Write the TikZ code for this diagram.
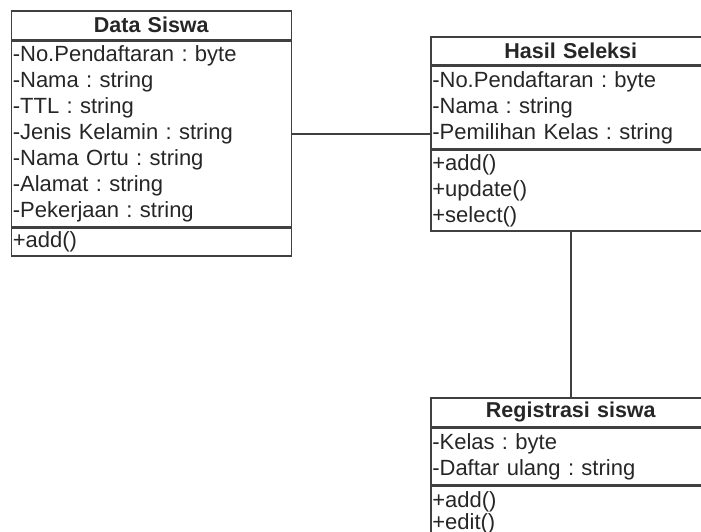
\documentclass[tikz,border=0pt]{standalone}
\usepackage{fontspec}
\setmainfont{Liberation Sans}
\usetikzlibrary{positioning}
\frenchspacing
\tikzset{
  cls/.style={draw=black!75,line width=1.6pt,minimum width=280pt,text width=277pt,
    inner xsep=1pt,inner ysep=0pt,font=\fontsize{22}{26}\selectfont,text=black!85},
  clstitle/.style={cls,align=center,minimum height=29pt,font=\fontsize{21.5}{26}\selectfont\bfseries},
  clsbody/.style={cls,align=left},
  link/.style={draw=black!75,line width=1.6pt}
}
\begin{document}
\begin{tikzpicture}[x=1pt,y=-1pt]
	\useasboundingbox (0,0) rectangle (701,532);
	\clip (0,0) rectangle (701,532);
	% Data Siswa
	\node[clstitle,anchor=north west] (dstitle) at (10.5,10) {Data Siswa};
	\node[clsbody,minimum height=185pt,below=0pt of dstitle] (dsattr)
	{-No.Pendaftaran : byte\\-Nama : string\\-TTL : string\\-Jenis Kelamin : string\\-Nama Ortu : string\\-Alamat : string\\-Pekerjaan : string};
	\node[clsbody,minimum height=28pt,below=0pt of dsattr] (dsmeth) {+add()};
	% Hasil Seleksi
	\node[clstitle,anchor=north west,minimum height=28pt] (hstitle) at (430,36) {Hasil Seleksi};
	\node[clsbody,minimum height=82pt,below=0pt of hstitle] (hsattr)
	{-No.Pendaftaran : byte\\-Nama : string\\-Pemilihan Kelas : string};
	\node[clsbody,minimum height=81pt,below=0pt of hsattr] (hsmeth) {+add()\\+update()\\+select()};
	% Registrasi siswa
	\node[clstitle,anchor=north west] (rgtitle) at (430,397) {Registrasi siswa};
	\node[clsbody,minimum height=56pt,below=0pt of rgtitle] (rgattr)
	{-Kelas : byte\\-Daftar ulang : string};
	\node[clsbody,minimum height=53pt,below=0pt of rgattr,font=\fontsize{22}{22}\selectfont] (rgmeth) {+add()\\+edit()};
	% relasi
	\draw[link] (dsattr.east) -- (dsattr.east -| hsattr.west);
	\draw[link] (hsmeth.south) -- (rgtitle.north);
\end{tikzpicture}
\end{document}
